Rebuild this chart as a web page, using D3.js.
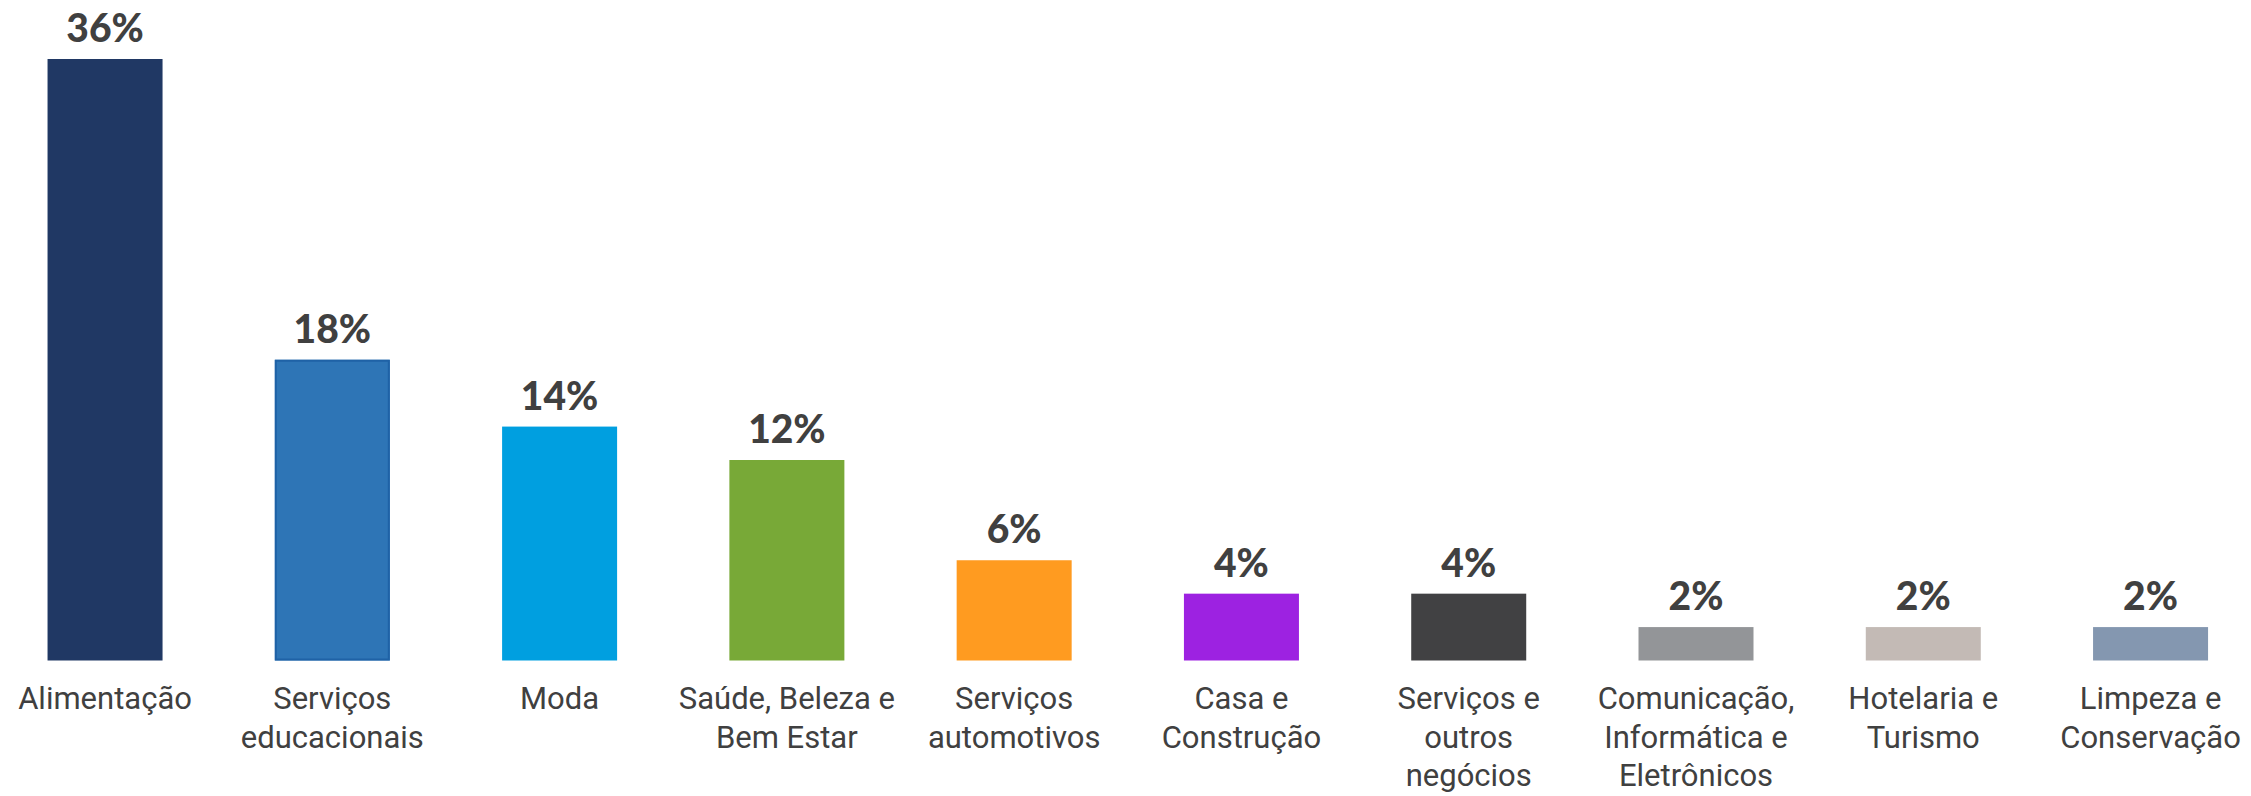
<!DOCTYPE html>
<html>
<head>
<meta charset="utf-8">
<script src="https://cdn.jsdelivr.net/npm/d3@7"></script>
<style>
  body { margin: 0; background: #fff; }
</style>
</head>
<body>
<div id="barchart"></div>
<script>
// data
var categories = ["Alimentação", "Serviços\neducacionais", "Moda", "Saúde, Beleza e\nBem Estar",
  "Serviços\nautomotivos", "Casa e\nConstrução", "Serviços e\noutros\nnegócios",
  "Comunicação,\nInformática e\nEletrônicos", "Hotelaria e\nTurismo", "Limpeza e\nConservação"];
var values = [36, 18, 14, 12, 6, 4, 4, 2, 2, 2];
var valueLabels = ["36%", "18%", "14%", "12%", "6%", "4%", "4%", "2%", "2%", "2%"];
var colors = ["#203864", "#2e75b6", "#009fe0", "#78a937", "#ff9b20", "#9d22e1", "#414143", "#939598", "#c3bab5", "#8497b0"];

var width = 2251, height = 796;

var svg = d3.select("#barchart")
  .append("svg")
  .attr("width", width)
  .attr("height", height);

// x scale
var x = d3.scaleBand()
  .domain(categories)
  .range([-8.6, 2264.2])
  .paddingInner(0.494)
  .paddingOuter(0.247);

// y scale
var y = d3.scaleLinear()
  .domain([0, 36])
  .range([660.5, 59]);

// bars
svg.selectAll("rect.bar")
  .data(values)
  .enter()
  .append("rect")
  .attr("class", "bar")
  .attr("x", function(d, i) { return x(categories[i]); })
  .attr("y", function(d) { return y(d); })
  .attr("width", x.bandwidth())
  .attr("height", function(d) { return y(0) - y(d); })
  .attr("fill", function(d, i) { return colors[i]; });

// outline for second bar
svg.append("rect")
  .attr("x", x(categories[1]) + 1)
  .attr("y", y(values[1]) + 1)
  .attr("width", x.bandwidth() - 2)
  .attr("height", y(0) - y(values[1]) - 2)
  .attr("fill", "none")
  .attr("stroke", "#1f62a6")
  .attr("stroke-width", 2);

// value labels
svg.selectAll("text.val")
  .data(values)
  .enter()
  .append("text")
  .attr("class", "val")
  .attr("x", function(d, i) { return x(categories[i]) + x.bandwidth() / 2; })
  .attr("y", function(d) { return y(d) - 17; })
  .attr("text-anchor", "middle")
  .attr("fill", "#404040")
  .style("font-family", "Lato, Roboto, sans-serif")
  .style("font-weight", "900")
  .style("font-size", "39px")
  .text(function(d, i) { return valueLabels[i]; });

// category labels
var labels = svg.selectAll("text.cat")
  .data(categories)
  .enter()
  .append("text")
  .attr("class", "cat")
  .attr("x", function(d) { return x(d) + x.bandwidth() / 2; })
  .attr("y", 709)
  .attr("text-anchor", "middle")
  .attr("fill", "#404040")
  .style("font-family", "Roboto, sans-serif")
  .style("font-size", "31px");

labels.each(function(d) {
  var t = d3.select(this);
  d.split("\n").forEach(function(line, j) {
    t.append("tspan")
      .attr("x", x(d) + x.bandwidth() / 2)
      .attr("y", 709 + j * 38.6)
      .text(line);
  });
});
</script>
</body>
</html>
